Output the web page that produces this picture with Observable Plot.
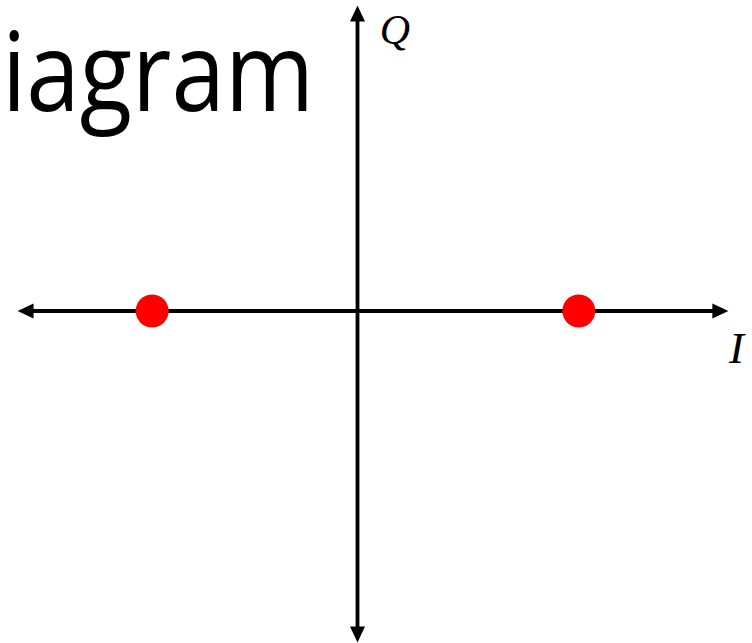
<!DOCTYPE html>
<html>
<head>
<meta charset="utf-8">
<script src="https://cdn.jsdelivr.net/npm/d3@7"></script>
<script src="https://cdn.jsdelivr.net/npm/@observablehq/plot@0.6"></script>
<style>
  html, body { margin: 0; padding: 0; background: #fff; }
  #chart svg { display: block; }
</style>
</head>
<body>
<div id="chart"></div>
<script>
// BPSK constellation: symbol positions on the I/Q plane
const symbolI = [-0.928, 1.0];
const symbolQ = [0, 0];
// axis extents (arrow tips), in the same units
const axisI = [-1.536, 1.676];
const axisQ = [-1.498, 1.380];
const axisLabels = ["I", "Q"];
const titleText = "iagram";

const unit = 221.3; // pixels per unit
const W = 752, H = 643;
const x0 = 357, y0 = 310.5;
const xDomain = [-x0 / unit, (W - x0) / unit];
const yDomain = [-(H - y0) / unit, y0 / unit];

const symbols = symbolI.map((v, i) => ({I: v, Q: symbolQ[i]}));

const headLen = 16, headHalf = 7.5;
const arrowHead = {
  draw(context) {
    context.moveTo(0, 0);
    context.lineTo(-headHalf, headLen);
    context.lineTo(headHalf, headLen);
    context.closePath();
  }
};
const inset = 10 / unit;
const tips = [
  {I: axisI[1], Q: 0, a: 90},
  {I: axisI[0], Q: 0, a: 270},
  {I: 0, Q: axisQ[1], a: 0},
  {I: 0, Q: axisQ[0], a: 180}
];

const chart = Plot.plot({
  width: W,
  height: H,
  margin: 0,
  x: {domain: xDomain, axis: null},
  y: {domain: yDomain, axis: null},
  marks: [
    Plot.ruleY([0], {x1: axisI[0] + inset, x2: axisI[1] - inset, stroke: "black", strokeWidth: 3.8}),
    Plot.ruleX([0], {y1: axisQ[0] + inset, y2: axisQ[1] - inset, stroke: "black", strokeWidth: 3.8}),
    Plot.dot(tips, {x: "I", y: "Q", rotate: "a", symbol: arrowHead, fill: "black", stroke: null}),
    Plot.dot(symbols, {x: "I", y: "Q", r: 16.5, fill: "#ff0000", stroke: null}),
    Plot.text([axisLabels[0]], {x: 1.7126, y: -0.168, text: d => d, fontFamily: "Liberation Serif", fontStyle: "italic", fontSize: 45, fill: "black", textAnchor: "middle"}),
    Plot.text([axisLabels[1]], {x: 0.1695, y: 1.2675, text: d => d, fontFamily: "Liberation Serif", fontStyle: "italic", fontSize: 42, fill: "black", textAnchor: "middle"}),
    Plot.text([titleText], {x: 1.5 / unit - x0 / unit, y: 1.0624, text: d => d, fontFamily: "Open Sans", fontSize: 110, fill: "black", textAnchor: "start", className: "title-text"})
  ]
});
d3.select(chart).selectAll(".title-text text")
  .attr("textLength", 312)
  .attr("lengthAdjust", "spacingAndGlyphs");
document.getElementById("chart").appendChild(chart);
</script>
</body>
</html>
